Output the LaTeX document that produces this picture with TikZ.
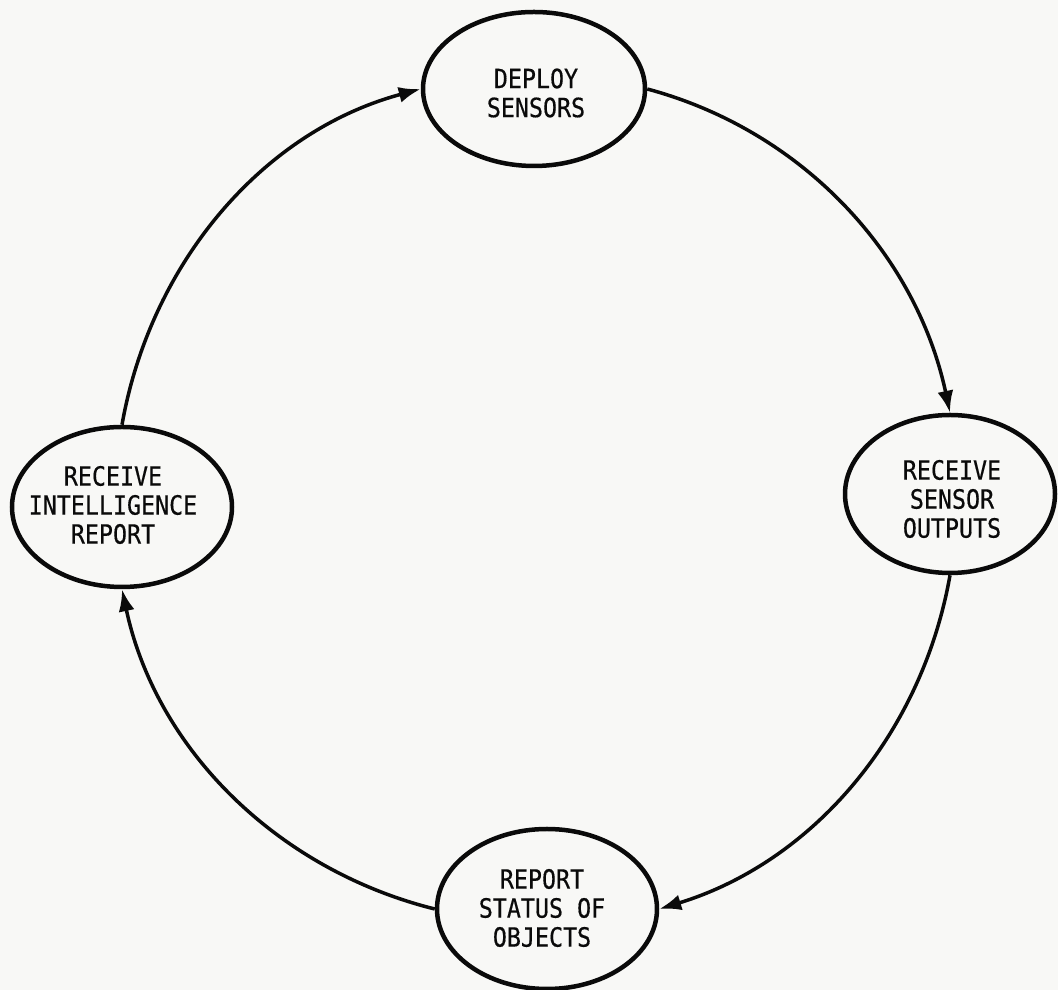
\documentclass[tikz,border=0pt]{standalone}
\usepackage{fontspec}
\newfontfamily\plotfont[FakeStretch=0.88,FakeBold=0.5]{DejaVu Sans Mono}
\usetikzlibrary{shapes.geometric,arrows.meta}
\definecolor{paper}{RGB}{248,248,246}
\definecolor{ink}{RGB}{10,10,10}
\begin{document}
\begin{tikzpicture}[x=1pt,y=1pt,
  proc/.style={ellipse, draw=ink, line width=4.5pt, inner sep=0pt},
  lab/.style={font=\plotfont\fontsize{26.5}{29}\selectfont, text=ink, align=center, inner sep=0pt},
  flow/.style={draw=ink, line width=3.5pt, -{Latex[length=22pt,width=16pt]}}]
\fill[paper] (0,0) rectangle (1058,990);
\useasboundingbox (0,0) rectangle (1058,990);
% process ellipses
\node[proc, minimum width=222pt, minimum height=154pt] (dep)  at (534,901) {};
\node[proc, minimum width=210pt, minimum height=158pt] (rso)  at (950,496) {};
\node[proc, minimum width=220pt, minimum height=160pt] (rsoo) at (547,81)  {};
\node[proc, minimum width=220pt, minimum height=160pt] (rir)  at (122,483) {};
% texts
\node[lab] (depT)  at (536,897) {DEPLOY\\SENSORS};
\node[lab] (rsoT)  at (952,491) {RECEIVE\\SENSOR\\OUTPUTS};
\node[lab] (rsooT) at (542,82)  {REPORT\\STATUS OF\\OBJECTS};
\node[lab] (rirT)  at (113,485) {RECEIVE\\INTELLIGENCE\\REPORT};
% cycle connectors (arcs of one large circle)
\draw[flow] (rir.north) to[out=80, in=195, looseness=0.93] (dep.west);
\draw[flow] (dep.east) to[out=-15, in=102, looseness=0.93] (rso.north);
\draw[flow] (rso.south) to[out=-100, in=17, looseness=0.93] (rsoo.east);
\draw[flow] (rsoo.west) to[out=166, in=282, looseness=0.93] (rir.south);
\end{tikzpicture}
\end{document}
